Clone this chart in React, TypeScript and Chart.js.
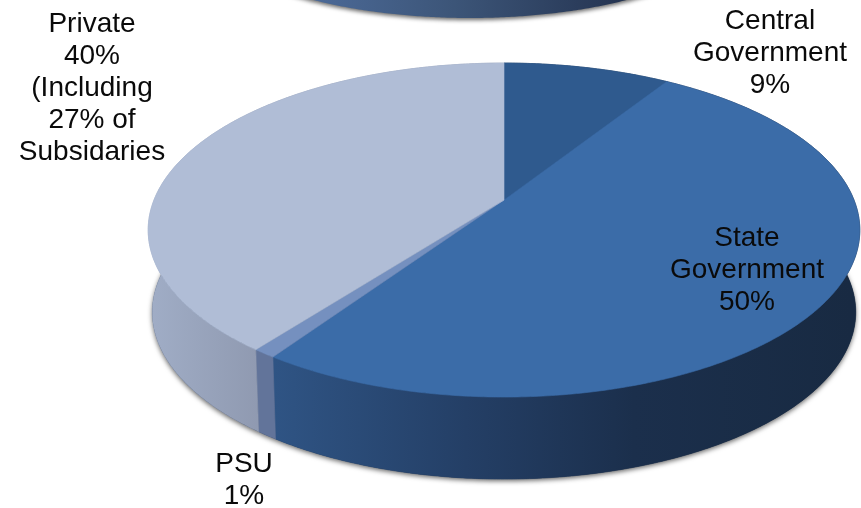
import React, { useEffect, useRef } from "react";
import { Chart, registerables } from "chart.js";

Chart.register(...registerables);

// Data
const categories = ["Central Government", "State Government", "PSU", "Private"];
const shares = [9, 50.5, 0.9, 39.6];
const previousPieLabels = ["Previous pie"];
const previousPieShares = [100];

const topColors = ["#2f5a8e", "#3b6ca8", "#7590bf", "#b0bdd6"];
const wallStops: [number, string][][] = [
  [[0, "#1f3a5c"], [1, "#1f3a5c"]],
  [[0, "#2f5484"], [0.33, "#243f66"], [0.62, "#1b2f4c"], [1, "#182a42"]],
  [[0, "#62749a"], [1, "#62749a"]],
  [[0, "#a0adc6"], [1, "#8f99b0"]],
];
const wallRanges = [
  [504, 670],
  [275, 853],
  [255, 280],
  [150, 262],
];

const labels = [
  { lines: ["Private", "40%", "(Including", "27% of", "Subsidaries"], x: 92, y: 24.5 },
  { lines: ["Central", "Government", "9%"], x: 770, y: 21.5 },
  { lines: ["State", "Government", "50%"], x: 747, y: 238.5 },
  { lines: ["PSU", "1%"], x: 244, y: 464.5 },
];

const FACE = { cx: 504, cy: 200, a: 350, b: 161.6, k: -0.18 };
const RIM = { cx: 504, cy: 282, a: 346, b: 161.6, k: -0.18 };
const PREV_RIM = { cx: 470, cy: -79, a: 270, b: 97, k: 0 };
const LINE_HEIGHT = 32;

type Proj = { cx: number; cy: number; a: number; b: number; k: number };

const project = (p: Proj, t: number): [number, number] => {
  const d = 1 + p.k * Math.sin(t);
  return [p.cx + (p.a * Math.cos(t)) / d, p.cy + (p.b * Math.sin(t)) / d];
};

const tracePoints = (ctx: CanvasRenderingContext2D, p: Proj, t0: number, t1: number, move: boolean) => {
  const n = Math.max(2, Math.ceil(Math.abs(t1 - t0) / 0.01));
  for (let i = 0; i <= n; i++) {
    const [x, y] = project(p, t0 + ((t1 - t0) * i) / n);
    if (i === 0 && move) ctx.moveTo(x, y);
    else ctx.lineTo(x, y);
  }
};

const perspectivePie = {
  id: "perspectivePie",
  beforeDatasetsDraw(chart: any) {
    const ctx: CanvasRenderingContext2D = chart.ctx;
    const arcs = chart.getDatasetMeta(0).data;
    const prevArc = chart.getDatasetMeta(1).data[0];

    ctx.save();

    // previous pie's wall, cut by the top edge
    const prevGrad = ctx.createLinearGradient(310, 0, 630, 0);
    prevGrad.addColorStop(0, "#4c6a98");
    prevGrad.addColorStop(0.45, "#3c5578");
    prevGrad.addColorStop(1, "#243350");
    ctx.save();
    ctx.shadowColor = "rgba(0,0,0,0.6)";
    ctx.shadowBlur = 4;
    ctx.shadowOffsetY = 2;
    ctx.fillStyle = prevGrad;
    ctx.beginPath();
    tracePoints(ctx, PREV_RIM, prevArc.startAngle, prevArc.endAngle, true);
    ctx.closePath();
    ctx.fill();
    ctx.restore();

    // soft shadow under the wall
    ctx.save();
    ctx.shadowColor = "rgba(0,0,0,0.6)";
    ctx.shadowBlur = 5;
    ctx.shadowOffsetY = 2;
    ctx.fillStyle = "#1a2b44";
    ctx.beginPath();
    tracePoints(ctx, RIM, 0, Math.PI * 2, true);
    ctx.closePath();
    ctx.fill();
    ctx.restore();

    // walls
    arcs.forEach((arc: any, i: number) => {
      const [x0, x1] = wallRanges[i];
      const g = ctx.createLinearGradient(x0, 0, x1, 0);
      wallStops[i].forEach(([o, c]) => g.addColorStop(o, c));
      ctx.beginPath();
      tracePoints(ctx, FACE, arc.startAngle, arc.endAngle, true);
      tracePoints(ctx, RIM, arc.endAngle, arc.startAngle, false);
      ctx.closePath();
      ctx.fillStyle = g;
      ctx.strokeStyle = g;
      ctx.lineWidth = 0.6;
      ctx.fill();
      ctx.stroke();
    });

    // top faces
    arcs.forEach((arc: any, i: number) => {
      ctx.beginPath();
      ctx.moveTo(FACE.cx, FACE.cy);
      tracePoints(ctx, FACE, arc.startAngle, arc.endAngle, false);
      ctx.closePath();
      ctx.fillStyle = topColors[i];
      ctx.strokeStyle = topColors[i];
      ctx.lineWidth = 0.6;
      ctx.fill();
      ctx.stroke();
    });

    // labels
    ctx.fillStyle = "#0a0a0a";
    ctx.font = '28px "Liberation Sans", Arial, sans-serif';
    ctx.textAlign = "center";
    ctx.textBaseline = "middle";
    labels.forEach((l) => {
      l.lines.forEach((t, j) => ctx.fillText(t, l.x, l.y + j * LINE_HEIGHT));
    });

    ctx.restore();
    return false;
  },
};

export default function App() {
  const ref = useRef<HTMLCanvasElement>(null);
  useEffect(() => {
    if (!ref.current) return;
    const chart = new Chart(ref.current, {
      type: "pie",
      data: {
        labels: categories,
        datasets: [
          { label: "Share", data: shares, backgroundColor: topColors },
          { label: previousPieLabels[0], data: previousPieShares, backgroundColor: ["#3c5578"] },
        ],
      },
      options: {
        responsive: false,
        animation: false,
        plugins: { legend: { display: false }, tooltip: { enabled: false } },
      },
      plugins: [perspectivePie],
    } as any);
    return () => chart.destroy();
  }, []);
  return (
    <div style={{ position: "fixed", left: 0, top: 0, width: 861, height: 508, background: "#fff" }}>
      <canvas ref={ref} width={861} height={508} style={{ display: "block", width: 861, height: 508 }} />
    </div>
  );
}
